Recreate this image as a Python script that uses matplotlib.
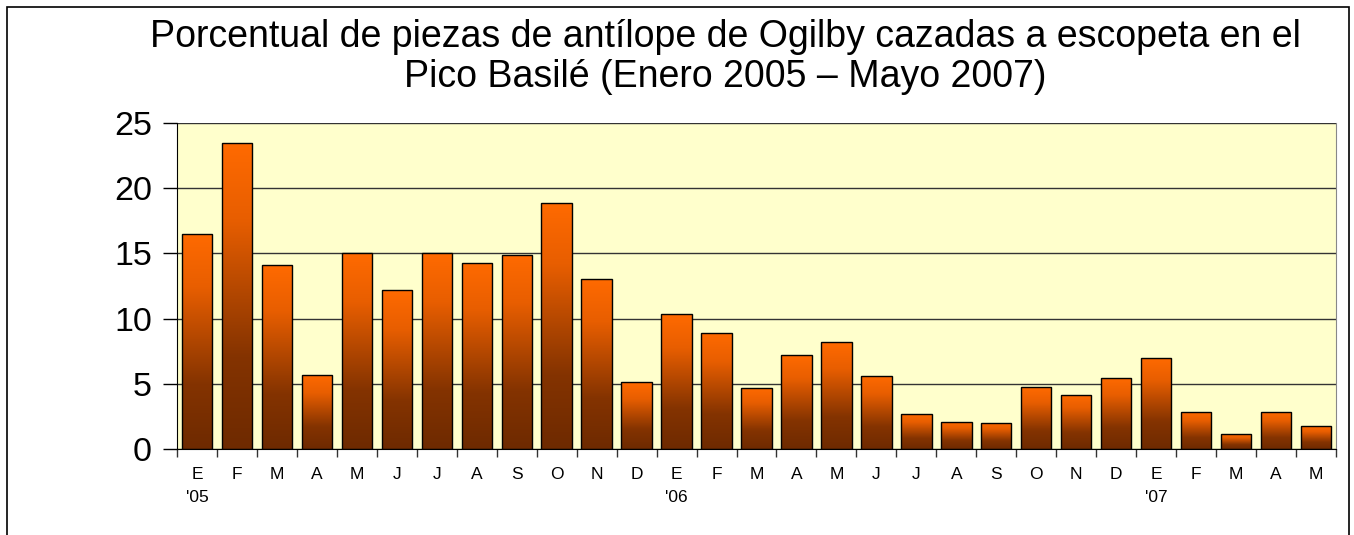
import matplotlib
matplotlib.use("Agg")
import matplotlib.pyplot as plt
import numpy as np
from matplotlib.colors import LinearSegmentedColormap
from matplotlib.patches import Rectangle

plt.rcParams['font.family'] = ['Liberation Sans', 'DejaVu Sans']

months = ["E", "F", "M", "A", "M", "J", "J", "A", "S", "O", "N", "D",
          "E", "F", "M", "A", "M", "J", "J", "A", "S", "O", "N", "D",
          "E", "F", "M", "A", "M"]
years = {0: "'05", 12: "'06", 24: "'07"}
values = [16.5, 23.5, 14.1, 5.7, 15.0, 12.2, 15.0, 14.3, 14.9, 18.9, 13.0, 5.1,
          10.35, 8.9, 4.7, 7.2, 8.2, 5.6, 2.7, 2.1, 2.0, 4.75, 4.15, 5.45,
          6.98, 2.84, 1.15, 2.84, 1.76]
title = "Porcentual de piezas de antílope de Ogilby cazadas a escopeta en el\nPico Basilé (Enero 2005 – Mayo 2007)"

fig = plt.figure(figsize=(13.54, 5.35), dpi=100)
ax = fig.add_axes([177/1354, 1-449/535, (1336-177)/1354, (449-123)/535])
ax.set_facecolor("#FFFFCC")

x = np.arange(len(values))
bars = ax.bar(x, values, width=0.76, facecolor="none", edgecolor="black",
              linewidth=1.0, zorder=3)

cmap = LinearSegmentedColormap.from_list("g", [(0, "#6E2A00"), (0.3, "#843300"),
                                                (0.75, "#E85E00"), (1.0, "#FF6A00")])
grad = np.linspace(0, 1, 256).reshape(-1, 1)
for b in bars:
    x0, w, h = b.get_x(), b.get_width(), b.get_height()
    im = ax.imshow(grad, cmap=cmap, origin="lower", aspect="auto",
                   extent=[x0, x0 + w, 0, h], zorder=2)
    clip = Rectangle((x0, 0), w, h, transform=ax.transData)
    im.set_clip_path(clip)

ax.set_xlim(-0.5, len(values) - 0.5)
ax.set_ylim(0, 25)
ax.set_yticks([0, 5, 10, 15, 20, 25])
ax.tick_params(axis="y", labelsize=24.5, length=10, width=1, pad=8)
ax.yaxis.grid(True, color="#333333", linewidth=1.0, zorder=1)
ax.set_axisbelow(True)

ax.set_xticks(x)
ax.set_xticklabels(months)
ax.set_xticks(np.arange(-0.5, len(values), 1), minor=True)
ax.tick_params(axis="x", which="major", length=0, labelsize=12.5, pad=13)
ax.tick_params(axis="x", which="minor", length=6, width=1, color="#333333")
for i, lab in years.items():
    ax.text(i, -0.125, lab, transform=ax.get_xaxis_transform(), ha="center",
            va="top", fontsize=12.5)

ax.spines["top"].set_visible(False)
ax.spines["right"].set_color("#888888")
ax.spines["left"].set_color("black")
ax.spines["bottom"].set_color("black")

fig.text(725/1354, 1-57/535, title, ha="center", va="center", fontsize=27,
         linespacing=1.12)

fig.patches.append(Rectangle((7/1354, -0.1), (1349-7)/1354, 1.1 - 7/535,
                             transform=fig.transFigure, fill=False,
                             edgecolor="black", linewidth=1.2))

fig.savefig("out.png", dpi=100)
